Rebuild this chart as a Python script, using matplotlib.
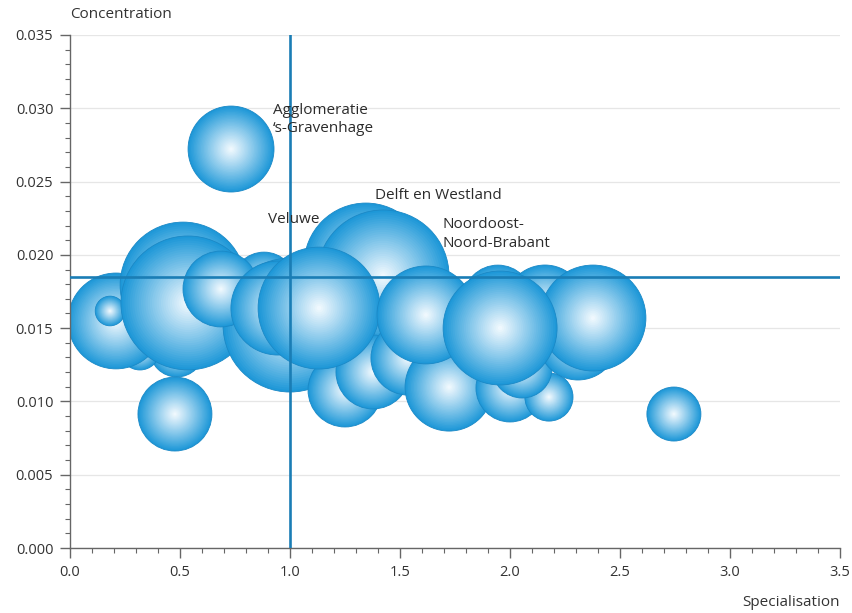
import matplotlib.pyplot as plt
import numpy as np
from matplotlib.colors import to_rgb

plt.rcParams['font.family'] = ['Open Sans', 'DejaVu Sans']

# bubbles, listed back to front (drawing order)
spec = [0.486, 0.318, 0.209, 0.182, 0.514, 0.536, 0.882, 1.000, 0.686, 0.945,
        1.345, 1.423, 1.250, 1.377, 1.132, 1.536, 1.723, 1.618, 2.000, 2.177,
        2.055, 1.945, 2.159, 2.309, 2.377, 1.955, 0.732, 0.477, 2.745]
conc = [0.01351, 0.01351, 0.01549, 0.01617, 0.01794, 0.01672, 0.01801, 0.01521, 0.01767, 0.01637,
        0.01931, 0.01856, 0.01078, 0.01201, 0.01637, 0.01296, 0.01098, 0.01590, 0.01092, 0.01030,
        0.01228, 0.01692, 0.01658, 0.01419, 0.01569, 0.01501, 0.02722, 0.00914, 0.00914]
employment = [73, 40, 230, 22, 397, 449, 102, 449, 144, 221,
              384, 436, 137, 137, 372, 137, 194, 240, 116, 58,
              90, 122, 160, 160, 281, 325, 185, 137, 73]

conc_mean = 0.0185
spec_mean = 1.0

yticks = [0.000, 0.005, 0.010, 0.015, 0.020, 0.025, 0.030, 0.035]
xticks = [0.0, 0.5, 1.0, 1.5, 2.0, 2.5, 3.0, 3.5]

fig = plt.figure(figsize=(8.53, 6.13), dpi=100)
ax = fig.add_axes([70/853, 65/613, 770/853, 513/613])
ax.set_xlim(0, 3.5)
ax.set_ylim(0, 0.035)

edge = np.array(to_rgb('#1e98d8'))
centre = np.array(to_rgb('#f6fbff'))
n = 30
for i, (x, y, v) in enumerate(zip(spec, conc, employment)):
    s = v * 20.7
    frac = np.linspace(1, 0.04, n)
    sizes = s * frac**2
    cols = [centre + (edge - centre) * f**1.05 for f in frac]
    lw = np.zeros(n)
    lw[0] = 0.6
    ecs = ['#1a88c6'] + ['none'] * (n - 1)
    ax.scatter([x]*n, [y]*n, s=sizes, c=cols, edgecolors=ecs, linewidths=lw,
               zorder=2 + i*0.01)

ax.axhline(conc_mean, color='#1a7db5', lw=1.9, zorder=10)
ax.axvline(spec_mean, color='#1a7db5', lw=1.9, zorder=10)

ax.set_yticks(yticks)
ax.set_yticklabels([f'{t:.3f}' for t in yticks])
ax.set_xticks(xticks)
ax.set_xticklabels([f'{t:.1f}' for t in xticks])
ax.set_xticks(np.arange(0, 3.51, 0.1), minor=True)
ax.set_yticks(np.arange(0, 0.0351, 0.001), minor=True)
ax.grid(axis='y', which='major', color='#e6e6e6', lw=0.9, zorder=0)
ax.set_axisbelow(True)
for sp in ['top', 'right']:
    ax.spines[sp].set_visible(False)
for sp in ['left', 'bottom']:
    ax.spines[sp].set_color('#666666')
    ax.spines[sp].set_linewidth(1.0)
ax.tick_params(which='major', direction='out', length=7, width=1, color='#666666',
               labelsize=10.5, labelcolor='#333333', pad=5)
ax.tick_params(which='minor', direction='out', length=3.5, width=0.8, color='#666666')

txt = dict(fontsize=11, color='#2b2b2b', zorder=12, va='center', ha='left')
ax.text(0.923, 0.02923, 'Agglomeratie\n‘s-Gravenhage', linespacing=1.35, **txt)
ax.text(0.90, 0.02238, 'Veluwe', **txt)
ax.text(1.386, 0.02408, 'Delft en Westland', **txt)
ax.text(1.691, 0.02142, 'Noordoost-\nNoord-Brabant', linespacing=1.35, **txt)

fig.text(70/853, 1 - 14/613, 'Concentration', fontsize=11, color='#333333',
         ha='left', va='center')
fig.text(840/853, 1 - 602/613, 'Specialisation', fontsize=11, color='#333333',
         ha='right', va='center')

fig.savefig('out.png', dpi=100)
